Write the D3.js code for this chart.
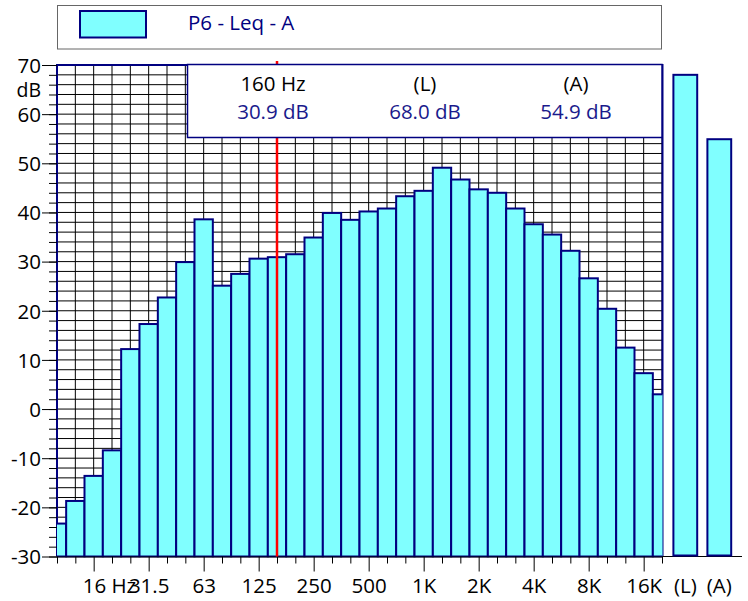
<!DOCTYPE html>
<html>
<head>
<meta charset="utf-8">
<script src="https://cdn.jsdelivr.net/npm/d3@7"></script>
<style>
  body { margin: 0; background: #fff; }
  svg { display: block; font-family: "Open Sans", "Noto Sans", sans-serif; }
</style>
</head>
<body>
<svg id="chart" width="748" height="601"></svg>
<script>
// 1/3 octave bands (centre frequencies) and their levels in dB
const bands = ["10", "12.5", "16", "20", "25", "31.5", "40", "50", "63", "80", "100", "125",
  "160", "200", "250", "315", "400", "500", "630", "800", "1K", "1.25K", "1.6K", "2K",
  "2.5K", "3.15K", "4K", "5K", "6.3K", "8K", "10K", "12.5K", "16K", "20K"];
const levels = [-23.3, -18.7, -13.6, -8.4, 12.2, 17.3, 22.7, 29.9, 38.6, 25.1, 27.5, 30.6,
  30.9, 31.5, 34.9, 39.9, 38.5, 40.2, 40.8, 43.3, 44.4, 49.1, 46.7, 44.7,
  44.0, 40.8, 37.6, 35.5, 32.2, 26.6, 20.4, 12.5, 7.3, 3.0];

// labelled bands on the x axis
const majorBands = ["16", "31.5", "63", "125", "250", "500", "1K", "2K", "4K", "8K", "16K"];
const majorLabels = ["16 Hz", "31.5", "63", "125", "250", "500", "1K", "2K", "4K", "8K", "16K"];

// overall levels
const totalNames = ["(L)", "(A)"];
const totalValues = [68.0, 54.9];

// cursor
const cursorBand = "160";
const cursorLabel = "160 Hz";
const seriesName = "P6 - Leq - A";

// y axis
const yMajor = [70, 60, 50, 40, 30, 20, 10, 0, -10, -20, -30];
const yUnit = "dB";

const navy = "#000080";
const cyan = "#80ffff";

const svg = d3.select("#chart");

const plot = { left: 57, right: 662.5, top: 65, bottom: 556.5 };

const x = d3.scalePoint()
  .domain(bands)
  .range([57, 662]);
const step = x.step();

const y = d3.scaleLinear()
  .domain([-30, 70])
  .range([plot.bottom, plot.top]);

const xt = d3.scaleBand()
  .domain(totalNames)
  .range([670, 734.6])
  .paddingInner(0.3)
  .paddingOuter(0.1);

// legend box
const legend = svg.append("g");
legend.append("rect")
  .attr("x", 57.5).attr("y", 5.5)
  .attr("width", 604).attr("height", 43.5)
  .attr("fill", "#fff")
  .attr("stroke", "#666")
  .attr("stroke-width", 1);
legend.append("rect")
  .attr("x", 80).attr("y", 11)
  .attr("width", 66).attr("height", 26.5)
  .attr("fill", cyan)
  .attr("stroke", navy)
  .attr("stroke-width", 2);
legend.append("text")
  .attr("x", 188).attr("y", 29.5)
  .attr("font-size", 20.5)
  .attr("fill", navy)
  .text(seriesName);

// clip for the spectrum
svg.append("defs").append("clipPath").attr("id", "plotclip")
  .append("rect")
  .attr("x", plot.left).attr("y", 0)
  .attr("width", plot.right - plot.left).attr("height", plot.bottom + 1);

// grid
const grid = svg.append("g").attr("stroke", "#000").attr("stroke-width", 1);
grid.selectAll("line.v")
  .data(bands)
  .join("line")
  .attr("class", "v")
  .attr("x1", d => x(d)).attr("x2", d => x(d))
  .attr("y1", plot.top).attr("y2", plot.bottom);
grid.selectAll("line.h")
  .data(d3.range(-30, 71, 2))
  .join("line")
  .attr("class", "h")
  .attr("x1", plot.left).attr("x2", plot.right)
  .attr("y1", d => y(d)).attr("y2", d => y(d));

// frame
svg.append("path")
  .attr("d", `M${plot.left},${plot.bottom}V${plot.top}H${plot.right}V${plot.bottom}`)
  .attr("fill", "none")
  .attr("stroke", navy)
  .attr("stroke-width", 2);

// y axis: minor and major ticks
const yMinorAxis = d3.axisLeft(y)
  .tickValues(d3.range(-30, 71, 2))
  .tickSize(8)
  .tickFormat("");
svg.append("g")
  .attr("transform", `translate(${plot.left},0)`)
  .call(yMinorAxis)
  .call(g => g.select(".domain").remove())
  .selectAll("line").attr("stroke", "#000");

const yAxis = d3.axisLeft(y)
  .tickValues(yMajor)
  .tickSize(15)
  .tickPadding(1)
  .tickFormat(d => d);
const yg = svg.append("g")
  .attr("transform", `translate(${plot.left},0)`)
  .call(yAxis)
  .call(g => g.select(".domain").remove());
yg.selectAll("line").attr("stroke", "#000");
yg.selectAll("text")
  .attr("font-size", 20.5)
  .attr("font-family", "Open Sans, Noto Sans, sans-serif")
  .attr("fill", "#000")
  .attr("dy", "0.36em");
svg.append("text")
  .attr("x", 41).attr("y", y(65))
  .attr("dy", "0.36em")
  .attr("text-anchor", "end")
  .attr("font-size", 19.5)
  .text(yUnit);

// bars
svg.append("g")
  .attr("clip-path", "url(#plotclip)")
  .selectAll("rect")
  .data(bands.map((b, i) => ({ band: b, value: levels[i] })))
  .join("rect")
  .attr("x", d => x(d.band) - step / 2)
  .attr("width", step)
  .attr("y", d => y(d.value))
  .attr("height", d => y(-30) - y(d.value))
  .attr("fill", cyan)
  .attr("stroke", navy)
  .attr("stroke-width", 2);

// x axis
const xAxis = d3.axisBottom(x)
  .tickValues(bands)
  .tickSize(7)
  .tickPadding(8)
  .tickFormat(d => {
    const k = majorBands.indexOf(d);
    return k >= 0 ? majorLabels[k] : "";
  });
const xg = svg.append("g")
  .attr("transform", `translate(0,${plot.bottom})`)
  .call(xAxis);
xg.select(".domain")
  .attr("d", `M${plot.left},0.5H${plot.right}`)
  .attr("stroke", "#000");
xg.selectAll(".tick line")
  .attr("stroke", "#000")
  .attr("y2", d => majorBands.includes(d) ? 15 : 7);
xg.selectAll(".tick text")
  .attr("font-size", 20.5)
  .attr("font-family", "Open Sans, Noto Sans, sans-serif")
  .attr("fill", "#000")
  .attr("y", 22)
  .attr("dy", "0.71em");
// first label: number centred on its tick, unit running to the right
xg.selectAll(".tick text")
  .filter(d => d === majorBands[0])
  .attr("text-anchor", "start")
  .attr("dx", -11.5);

// cursor line
svg.append("line")
  .attr("x1", x(cursorBand)).attr("x2", x(cursorBand))
  .attr("y1", 61).attr("y2", plot.bottom)
  .attr("stroke", "#ff0000")
  .attr("stroke-width", 2.5);

// overall bars
svg.append("line")
  .attr("x1", plot.right).attr("x2", 742)
  .attr("y1", plot.bottom).attr("y2", plot.bottom)
  .attr("stroke", "#000");
svg.append("g")
  .selectAll("rect")
  .data(totalNames.map((n, i) => ({ name: n, value: totalValues[i] })))
  .join("rect")
  .attr("x", d => xt(d.name))
  .attr("width", xt.bandwidth())
  .attr("y", d => y(d.value))
  .attr("height", d => y(-30) - 1 - y(d.value))
  .attr("fill", cyan)
  .attr("stroke", navy)
  .attr("stroke-width", 2);
svg.append("g")
  .selectAll("text")
  .data(totalNames)
  .join("text")
  .attr("x", d => xt(d) + xt.bandwidth() / 2)
  .attr("y", 593)
  .attr("text-anchor", "middle")
  .attr("font-size", 20.5)
  .text(d => d);

// cursor read-out box
const info = svg.append("g");
info.append("rect")
  .attr("x", 187.5).attr("y", 64.5)
  .attr("width", 474.5).attr("height", 73)
  .attr("fill", "#fff")
  .attr("stroke", navy)
  .attr("stroke-width", 1.5);
const readHeads = [cursorLabel].concat(totalNames);
const readValues = [levels[bands.indexOf(cursorBand)]].concat(totalValues);
const readX = [273, 425, 576];
info.selectAll("text.head")
  .data(readHeads)
  .join("text")
  .attr("class", "head")
  .attr("x", (d, i) => readX[i])
  .attr("y", 91)
  .attr("text-anchor", "middle")
  .attr("font-size", 20.5)
  .attr("fill", "#000")
  .text(d => d);
info.selectAll("text.val")
  .data(readValues)
  .join("text")
  .attr("class", "val")
  .attr("x", (d, i) => readX[i])
  .attr("y", 119)
  .attr("text-anchor", "middle")
  .attr("font-size", 20.5)
  .attr("fill", "#1a1a8c")
  .text(d => d3.format(".1f")(d) + " dB");
</script>
</body>
</html>
